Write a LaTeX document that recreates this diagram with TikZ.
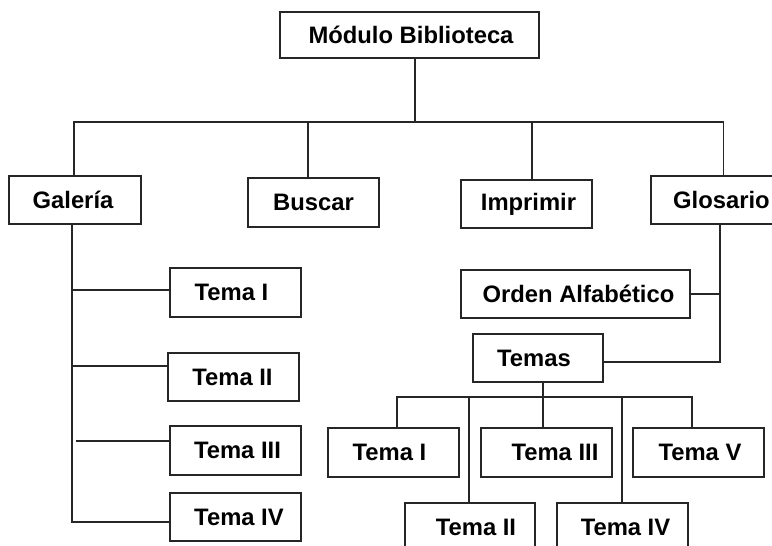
\documentclass[tikz,border=0pt]{standalone}
\usepackage{fontspec}
\setmainfont{Liberation Sans}
\begin{document}
\begin{tikzpicture}[x=1pt,y=-1pt,
  box/.style={draw=black!85, line width=1.5pt, fill=white, inner sep=0pt},
  lbl/.style={inner sep=0pt, font=\fontsize{23.8}{27}\selectfont\bfseries, text=black},
  link/.style={draw=black!85, line width=1.5pt}]
\useasboundingbox (0,0) rectangle (772,546);
\clip (0,0) rectangle (772,546);

% boxes: centre, width, height
\node[box, minimum width=259, minimum height=46] (top)      at (409.5,35)  {};
\node[box, minimum width=132, minimum height=48] (galeria)  at (75,200)    {};
\node[box, minimum width=131, minimum height=49] (buscar)   at (313.5,202.5) {};
\node[box, minimum width=131, minimum height=48] (imprimir) at (526.5,204) {};
\node[box, minimum width=141, minimum height=48] (glosario) at (721.5,200) {};
\node[box, minimum width=229, minimum height=48] (orden)    at (575.5,294) {};
\node[box, minimum width=130, minimum height=48] (temas)    at (538,358)   {};
\node[box, minimum width=131, minimum height=49] (ltI)      at (235.5,292.5) {};
\node[box, minimum width=131, minimum height=48] (ltII)     at (233.5,377) {};
\node[box, minimum width=131, minimum height=49] (ltIII)    at (235.5,450.5) {};
\node[box, minimum width=131, minimum height=48] (ltIV)     at (235.5,517) {};
\node[box, minimum width=131, minimum height=49] (btI)      at (393.5,452.5) {};
\node[box, minimum width=131, minimum height=49] (btIII)    at (546.5,452.5) {};
\node[box, minimum width=131, minimum height=49] (btV)      at (698.5,452.5) {};
\node[box, minimum width=130, minimum height=49] (btII)     at (470,527.5) {};
\node[box, minimum width=131, minimum height=49] (btIV)     at (622.5,527.5) {};

% texts
\node[lbl] (ttop)  at ([xshift=1.5]top.center)     {Módulo Biblioteca};
\node[lbl] (tgal)  at ([xshift=-2]galeria.center)  {Galería};
\node[lbl] (tbus)  at (buscar.center)              {Buscar};
\node[lbl] (timp)  at ([xshift=2]imprimir.center)  {Imprimir};
\node[lbl] (tglo)  at (glosario.center)            {Glosario};
\node[lbl] (tord)  at ([xshift=3]orden.center)     {Orden Alfabético};
\node[lbl] (ttem)  at ([xshift=-4]temas.center)    {Temas};
\node[lbl] (tl1)   at ([xshift=-4]ltI.center)      {Tema I};
\node[lbl] (tl2)   at ([xshift=-1]ltII.center)     {Tema II};
\node[lbl] (tl3)   at ([xshift=2]ltIII.center)     {Tema III};
\node[lbl] (tl4)   at ([xshift=3.5]ltIV.center)    {Tema IV};
\node[lbl] (tb1)   at ([xshift=-4]btI.center)      {Tema I};
\node[lbl] (tb3)   at ([xshift=8.5]btIII.center)   {Tema III};
\node[lbl] (tb5)   at ([xshift=1.5]btV.center)     {Tema V};
\node[lbl] (tb2)   at ([xshift=6]btII.center)      {Tema II};
\node[lbl] (tb4)   at ([xshift=3]btIV.center)      {Tema IV};

% top level
\coordinate (hub) at (415,122);
\draw[link] ([xshift=5.5]top.south) -- (hub);
\draw[link] ([xshift=-1]galeria.north) |- (hub) -| ([xshift=2]glosario.north);
\draw[link] ([xshift=-5.5]buscar.north) -- ([xshift=-5.5]buscar.north |- hub);
\draw[link] ([xshift=5.5]imprimir.north) -- ([xshift=5.5]imprimir.north |- hub);

% Galería branch
\coordinate (gx) at ([xshift=-3]galeria.south);
\draw[link] (gx) |- ([yshift=-5]ltIV.west);
\draw[link] ([yshift=2.5]ltI.west) -- ([yshift=2.5]ltI.west -| gx);
\draw[link] ([yshift=11]ltII.west) -- ([yshift=11]ltII.west -| gx);
\draw[link] ([yshift=9.5]ltIII.west) -- ([xshift=4,yshift=9.5]ltIII.west -| gx);

% Glosario branch
\coordinate (sx) at ([xshift=-1.5]glosario.south);
\draw[link] (sx) |- ([yshift=-4]temas.east);
\draw[link] (orden.east) -- (orden.east -| sx);

% Temas branch
\coordinate (tj) at ([xshift=5]temas.south |- 0,397);
\draw[link] ([xshift=5]temas.south) -- (tj);
\draw[link] ([xshift=3.5]btI.north) |- (tj) -| ([xshift=-6.5]btV.north);
\draw[link] ([xshift=-1]btII.north) -- ([xshift=-1]btII.north |- tj);
\draw[link] ([xshift=-3.5]btIII.north) -- ([xshift=-3.5]btIII.north |- tj);
\draw[link] ([xshift=-0.5]btIV.north) -- ([xshift=-0.5]btIV.north |- tj);
\end{tikzpicture}
\end{document}
